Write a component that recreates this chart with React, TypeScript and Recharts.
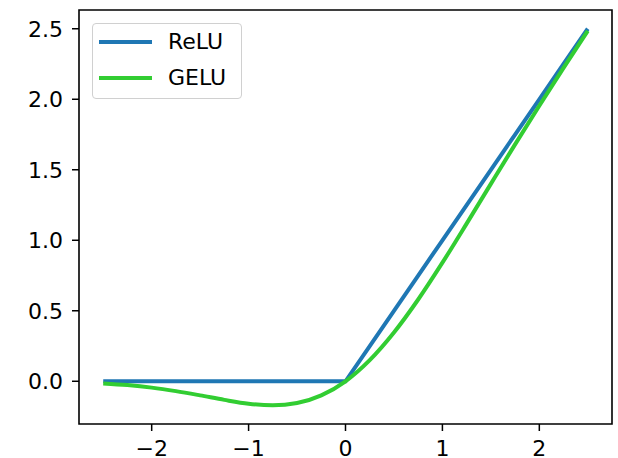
import { LineChart, Line, XAxis, YAxis, ReferenceArea } from "recharts";

const xs = [-2.5, -2.25, -2, -1.75, -1.5, -1.25, -1, -0.75, -0.5, -0.25, 0, 0.25, 0.5, 0.75, 1, 1.25, 1.5, 1.75, 2, 2.25, 2.5];
const relu = [0, 0, 0, 0, 0, 0, 0, 0, 0, 0, 0, 0.25, 0.5, 0.75, 1, 1.25, 1.5, 1.75, 2, 2.25, 2.5];
const gelu = [-0.015, -0.027, -0.045, -0.07, -0.1, -0.132, -0.159, -0.17, -0.154, -0.1, 0, 0.15, 0.346, 0.58, 0.841, 1.118, 1.4, 1.68, 1.954, 2.222, 2.485];

const xTicks = [-2, -1, 0, 1, 2];
const yTicks = [0, 0.5, 1, 1.5, 2, 2.5];
const xDomain = [-2.75, 2.75];
const yDomain = [-0.303, 2.633];

const data = xs.map((x, i) => ({ x, relu: relu[i], gelu: gelu[i] }));

const font = "'DejaVu Sans', sans-serif";
const tickStyle = { fontSize: 22, fill: "#000", fontFamily: font };

const legendItems = [
  { name: "ReLU", color: "#1f77b4" },
  { name: "GELU", color: "#32cd32" },
];

function LegendBox() {
  return (
    <div
      style={{
        position: "absolute",
        left: 92,
        top: 23,
        width: 150,
        height: 76,
        border: "1px solid #d0d0d0",
        borderRadius: 4,
        background: "rgba(255,255,255,0.8)",
        boxSizing: "border-box",
        fontFamily: font,
      }}
    >
      {legendItems.map((it, i) => (
        <div
          key={it.name}
          style={{ position: "absolute", left: 0, top: 18 + i * 36 - 15, height: 30, display: "flex", alignItems: "center" }}
        >
          <div style={{ width: 53, height: 4, background: it.color, marginLeft: 6 }} />
          <span style={{ marginLeft: 16, fontSize: 22, lineHeight: "30px", color: "#000" }}>{it.name}</span>
        </div>
      ))}
    </div>
  );
}

export default function App() {
  return (
    <div style={{ position: "absolute", left: 0, top: 0, width: 618, height: 458, background: "#fff", overflow: "hidden" }}>
      <LineChart width={618} height={458} data={data} margin={{ top: 10, right: 6, left: 0, bottom: 0 }}>
        <XAxis
          dataKey="x"
          type="number"
          domain={xDomain}
          ticks={xTicks}
          allowDataOverflow
          height={34}
          tickSize={7}
          tickMargin={9}
          axisLine={false}
          tickLine={{ stroke: "#000", strokeWidth: 1.5 }}
          tick={tickStyle}
          fontSize={22}
          fontFamily={font}
          tickFormatter={(v: number) => String(v).replace("-", "\u2212")}
        />
        <YAxis
          type="number"
          domain={yDomain}
          ticks={yTicks}
          allowDataOverflow
          width={79}
          tickSize={7}
          tickMargin={9}
          axisLine={false}
          tickLine={{ stroke: "#000", strokeWidth: 1.5 }}
          tick={tickStyle}
          fontSize={22}
          fontFamily={font}
          tickFormatter={(v: number) => v.toFixed(1)}
        />
        <ReferenceArea
          x1={xDomain[0]}
          x2={xDomain[1]}
          y1={yDomain[0]}
          y2={yDomain[1]}
          fill="none"
          stroke="#000"
          strokeWidth={1.6}
          ifOverflow="visible"
        />
        <Line
          dataKey="relu"
          type="linear"
          stroke="#1f77b4"
          strokeWidth={4}
          dot={false}
          isAnimationActive={false}
        />
        <Line
          dataKey="gelu"
          type="monotone"
          stroke="#32cd32"
          strokeWidth={4}
          dot={false}
          isAnimationActive={false}
        />
      </LineChart>
      <LegendBox />
    </div>
  );
}
